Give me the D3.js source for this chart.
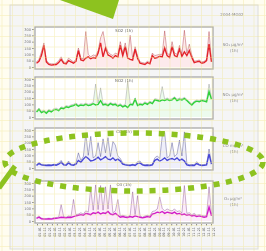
<!DOCTYPE html>
<html><head><meta charset="utf-8">
<script src="https://cdn.jsdelivr.net/npm/d3@7"></script>
<style>body{margin:0;background:#fffef0;overflow:hidden}svg{display:block}</style>
</head><body>
<svg id="c" width="266" height="251"></svg>
<script>
const xLabels = ["01-01","01-11","01-21","02-01","02-11","02-21","03-01","03-11","03-21","04-01","04-11","04-21",
  "05-01","05-11","05-21","06-01","06-11","06-21","07-01","07-11","07-21","08-01","08-11","08-21",
  "09-01","09-11","09-21","10-01","10-11","10-21","11-01","11-11","11-21","12-01","12-11","12-21"];
const yTicks = [0,50,100,150,200,250,300];
const chartTitle = "2004-MG02";
const panelTitles = ["SO2 (1h)","NO2 (1h)","CO (1h)","O3 (1h)"];
const unitLine1 = ["SO₂ μg/m³","NO₂ μg/m³","CO mg/m³","O₃ μg/m³"];
const unitLine2 = ["(1h)","(1h)","(1h)","(1h)"];

const so2Mean = [30,45,90,170,40,20,15,18,20,35,60,30,25,50,40,30,45,130,55,50,70,80,65,75,70,110,190,80,150,95,85,70,90,80,170,90,160,70,60,55,140,70,30,25,20,35,25,90,70,75,85,80,150,90,75,160,90,80,140,85,120,90,130,75,35,40,45,30,35,50,180,40];
const so2Peak = [40,60,120,190,55,30,25,25,30,50,80,40,35,70,55,40,60,150,70,65,280,100,80,95,90,130,230,280,170,120,100,90,110,100,200,110,190,90,250,70,160,90,40,35,30,45,35,110,90,95,100,100,285,110,95,200,110,100,170,105,290,110,180,95,45,50,55,40,45,60,280,55];
const no2Mean = [40,60,35,45,30,50,40,55,60,50,70,65,80,75,85,90,100,85,95,90,100,90,95,105,95,100,130,95,100,90,105,95,100,85,95,80,90,75,100,95,140,90,100,95,110,100,115,105,135,130,125,135,130,140,130,135,150,130,140,135,145,130,110,95,115,125,120,130,125,120,200,140];
const no2Peak = [50,70,45,55,40,60,50,65,70,60,80,75,90,85,95,100,110,95,105,100,110,100,105,115,260,110,230,105,110,100,115,105,110,95,105,90,100,280,110,105,150,100,110,105,120,110,125,115,145,140,135,240,140,150,140,145,160,140,150,145,155,140,120,105,125,135,130,140,135,130,260,150];
const coMean = [20,35,25,22,20,22,20,25,22,30,45,25,22,40,25,22,30,60,45,70,90,75,55,60,70,85,65,75,90,70,65,80,60,70,55,30,25,22,20,25,20,35,40,25,20,22,20,25,60,70,55,65,80,60,70,75,65,80,60,70,55,25,20,22,20,35,25,20,22,25,110,30];
const coPeak = [25,45,30,28,25,28,25,30,28,40,60,30,28,55,30,28,40,120,60,90,270,100,250,80,95,200,90,230,120,240,90,210,180,95,75,40,30,28,25,30,25,50,55,30,25,28,25,30,80,95,75,250,280,80,95,200,90,110,220,95,285,35,25,28,25,50,30,25,28,30,150,40];
const o3Mean = [20,30,18,15,15,18,15,20,22,25,30,28,25,30,28,35,40,45,50,45,60,55,50,65,60,70,55,65,60,75,55,50,60,45,30,35,30,28,35,30,40,35,30,25,30,35,30,55,60,70,65,75,60,70,65,60,70,55,60,50,55,45,50,40,45,35,40,35,30,35,110,40];
const o3Peak = [25,40,22,20,20,22,20,25,28,30,130,35,30,40,35,170,50,55,65,55,80,70,260,85,285,90,280,85,270,95,285,65,80,170,40,45,40,35,45,230,50,200,40,30,40,45,40,75,80,95,190,100,80,95,85,80,95,75,80,65,280,60,65,50,60,45,50,45,40,45,270,55];

const panels = [
  {mean: so2Mean, peak: so2Peak, main: "#e3242b", dark: "#a0101c", light: "#f4a0a8"},
  {mean: no2Mean, peak: no2Peak, main: "#2ed13a", dark: "#7a7a7a", light: "#a8eeb0"},
  {mean: coMean,  peak: coPeak,  main: "#4646d6", dark: "#22226e", light: "#b4b4ee"},
  {mean: o3Mean,  peak: o3Peak,  main: "#d21ec8", dark: "#6e2a78", light: "#f2a8ee"}
];

const svg = d3.select("#c");
const W = 266, H = 251;
const defs = svg.append("defs");
defs.append("filter").attr("id", "soft").attr("x", "-5%").attr("y", "-5%").attr("width", "110%").attr("height", "110%")
  .append("feGaussianBlur").attr("stdDeviation", 0.35);

svg.append("rect").attr("width", W).attr("height", H).attr("fill", "#fffdf0");
const root = svg.append("g").attr("filter", "url(#soft)");
root.append("rect").attr("x", 10).attr("y", 5).attr("width", 248).attr("height", 244)
  .attr("fill", "#f5f5f6").attr("stroke", "#dcdcdc").attr("stroke-width", 1);

const top0 = [27, 77, 128, 181];
const boxH = 42, boxX0 = 35, boxX1 = 213;
const x = d3.scaleLinear().domain([0, 71]).range([boxX0 + 1.5, boxX1 - 1.5]);

panels.forEach((p, k) => {
  const t = top0[k], b = t + boxH;
  const y = d3.scaleLinear().domain([0, 300]).range([b - 2, t + 2]);
  const g = root.append("g");
  g.append("rect").attr("x", boxX0).attr("y", t).attr("width", boxX1 - boxX0).attr("height", boxH)
    .attr("fill", "#ffffff").attr("stroke", "#a9a9a9").attr("stroke-width", 1.3);
  const area = d3.area().x((d, i) => x(i)).y0(y(0)).y1(d => y(d));
  g.append("path").datum(p.peak).attr("d", area).attr("fill", p.light).attr("opacity", 0.22);
  const line = d3.line().x((d, i) => x(i)).y(d => y(d));
  g.append("path").datum(p.peak).attr("d", line).attr("fill", "none")
    .attr("stroke", p.dark).attr("stroke-width", 0.55).attr("opacity", 0.65);
  g.append("path").datum(p.mean).attr("d", line).attr("fill", "none")
    .attr("stroke", p.main).attr("stroke-width", 1.4);
  const ax = g.append("g").attr("transform", `translate(${boxX0 - 1},0)`)
    .call(d3.axisLeft(y).tickValues(yTicks).tickSize(2).tickPadding(1));
  ax.select(".domain").remove();
  ax.selectAll("line").attr("stroke", "#999");
  ax.selectAll("text").attr("font-size", 3.6).attr("fill", "#777").attr("font-family", "DejaVu Sans");
  g.append("text").attr("x", 124).attr("y", t + 5).attr("text-anchor", "middle")
    .attr("font-size", 4).attr("fill", "#666").attr("font-family", "DejaVu Sans").text(panelTitles[k]);
  g.append("text").attr("x", 233).attr("y", t + 19).attr("text-anchor", "middle")
    .attr("font-size", 4).attr("fill", "#888").attr("font-family", "DejaVu Sans").text(unitLine1[k]);
  g.append("text").attr("x", 234).attr("y", t + 25).attr("text-anchor", "middle")
    .attr("font-size", 4).attr("fill", "#888").attr("font-family", "DejaVu Sans").text(unitLine2[k]);
  if (k === 3) {
    const xb = d3.scalePoint().domain(xLabels).range([boxX0 + 2, boxX1 - 2]);
    const axb = g.append("g").attr("transform", `translate(0,${b + 1})`)
      .call(d3.axisBottom(xb).tickSize(1.5).tickPadding(1));
    axb.select(".domain").remove();
    axb.selectAll("line").attr("stroke", "#888");
    axb.selectAll("text").attr("font-size", 3.4).attr("fill", "#555").attr("font-family", "DejaVu Sans")
      .attr("text-anchor", "end").attr("dy", "0.35em")
      .attr("transform", "translate(0,3) rotate(-90)");
  }
});

root.append("text").attr("x", 232).attr("y", 16).attr("text-anchor", "middle")
  .attr("font-size", 4).attr("fill", "#888").attr("font-family", "DejaVu Sans").text(chartTitle);

const grid = svg.append("g").attr("stroke", "#f0e48a").attr("stroke-width", 0.6).attr("opacity", 0.55);
d3.range(2, W, 10.5).forEach(v => grid.append("line").attr("x1", v).attr("x2", v).attr("y1", 0).attr("y2", H));
d3.range(5, H, 10.5).forEach(v => grid.append("line").attr("y1", v).attr("y2", v).attr("x1", 0).attr("x2", W));

const green = "#8dc21f";
svg.append("polygon").attr("points", "60,0 119,0 113,19").attr("fill", green);
svg.append("ellipse").attr("cx", 134).attr("cy", 162).attr("rx", 129).attr("ry", 29)
  .attr("fill", "none").attr("stroke", green).attr("stroke-width", 5.5).attr("stroke-dasharray", "6 6.8");
svg.append("line").attr("x1", -1).attr("y1", 188).attr("x2", 15).attr("y2", 166)
  .attr("stroke", green).attr("stroke-width", 5);
</script>
</body></html>
